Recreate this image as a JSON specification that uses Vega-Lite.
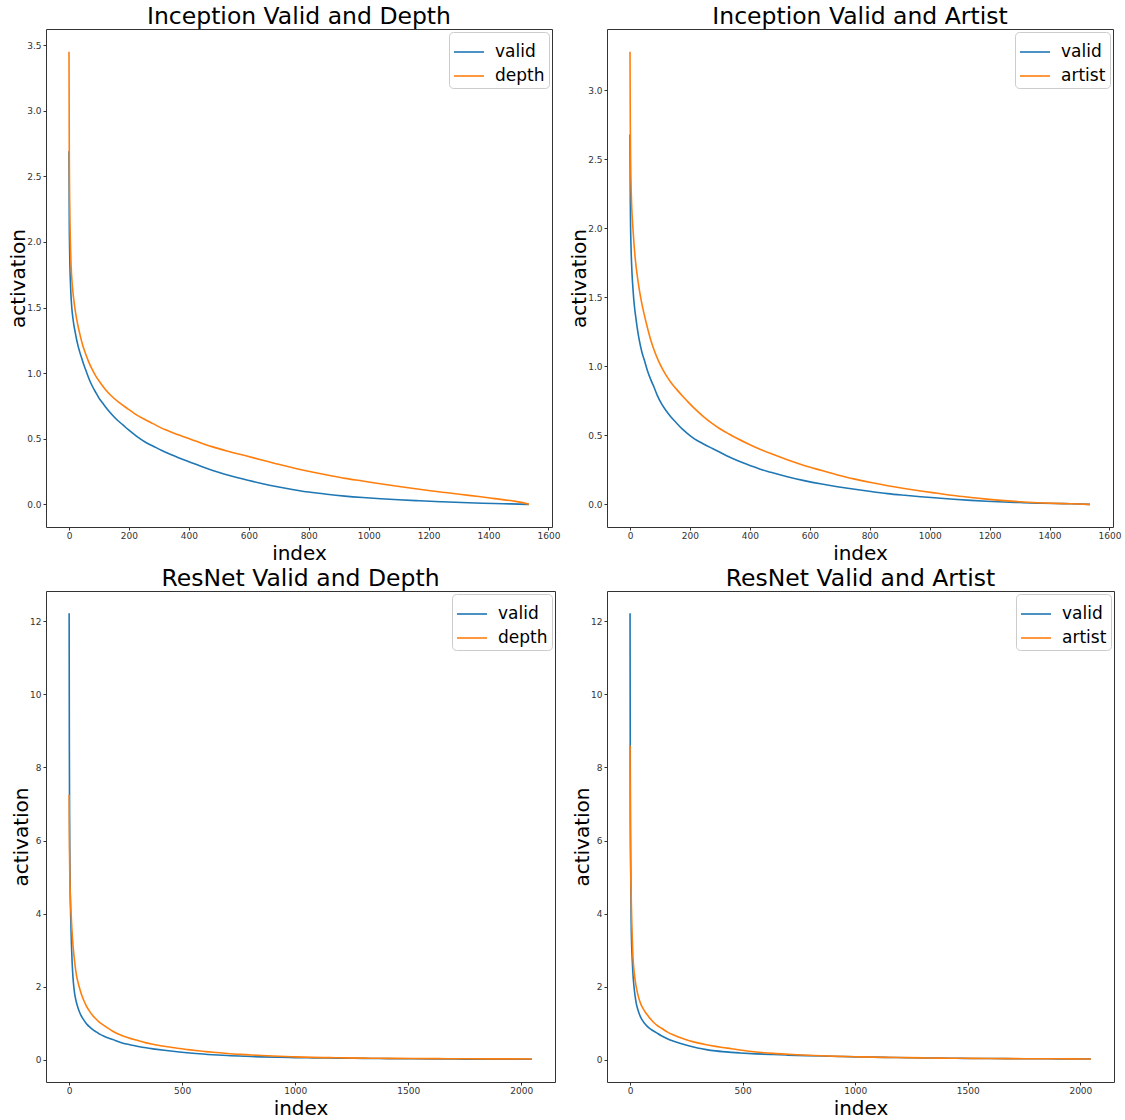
{
  "$schema": "https://vega.github.io/schema/vega-lite/v6.json",
  "background": "white",
  "padding": {"left": 8, "top": 4, "right": 2, "bottom": 1},
  "columns": 2,
  "spacing": {"row": 64, "column": 52},
  "bounds": "flush",
  "align": "each",
  "resolve": {"scale": {"x": "independent", "y": "independent", "color": "independent"}, "legend": {"color": "independent"}},
  "config": {
    "font": "DejaVu Sans",
    "view": {"stroke": "#333", "strokeWidth": 1},
    "axis": {"grid": false, "domain": false, "tickColor": "#333", "tickSize": 3, "labelPadding": 2, "labelFontSize": 9, "labelColor": "#333", "labelFont": "DejaVu Sans", "titleFont": "DejaVu Sans", "titleFontSize": 20, "titleFontWeight": "normal", "titleColor": "black"},
    "axisX": {"titlePadding": 3, "labelPadding": 1},
    "axisY": {"titlePadding": -2},
    "title": {"font": "DejaVu Sans", "fontSize": 23.5, "fontWeight": "normal", "color": "black", "offset": 1},
    "legend": {"orient": "top-right", "offset": 3, "labelFontSize": 17, "labelFont": "DejaVu Sans", "labelColor": "black", "symbolType": "stroke", "symbolSize": 900, "symbolStrokeWidth": 1.6, "strokeColor": "#cccccc", "fillColor": "white", "padding": 4, "cornerRadius": 4, "rowPadding": -1, "labelOffset": 10, "title": null}
  },
  "datasets": {
    "tl": [
      {"index": 0, "activation": 2.69, "series": "valid"}, {"index": 1, "activation": 2.15, "series": "valid"}, {"index": 2, "activation": 1.95, "series": "valid"}, {"index": 3, "activation": 1.82, "series": "valid"}, {"index": 4, "activation": 1.74, "series": "valid"}, {"index": 6, "activation": 1.62, "series": "valid"}, {"index": 8, "activation": 1.54, "series": "valid"}, {"index": 10, "activation": 1.48, "series": "valid"}, {"index": 13, "activation": 1.42, "series": "valid"}, {"index": 16, "activation": 1.37, "series": "valid"}, {"index": 20, "activation": 1.32, "series": "valid"}, {"index": 25, "activation": 1.26, "series": "valid"}, {"index": 30, "activation": 1.21, "series": "valid"}, {"index": 36, "activation": 1.16, "series": "valid"}, {"index": 43, "activation": 1.11, "series": "valid"}, {"index": 50, "activation": 1.06, "series": "valid"}, {"index": 58, "activation": 1.01, "series": "valid"}, {"index": 68, "activation": 0.95, "series": "valid"}, {"index": 78, "activation": 0.9, "series": "valid"}, {"index": 90, "activation": 0.85, "series": "valid"}, {"index": 100, "activation": 0.81, "series": "valid"}, {"index": 113, "activation": 0.77, "series": "valid"}, {"index": 128, "activation": 0.725, "series": "valid"}, {"index": 143, "activation": 0.685, "series": "valid"}, {"index": 160, "activation": 0.645, "series": "valid"}, {"index": 180, "activation": 0.605, "series": "valid"}, {"index": 200, "activation": 0.565, "series": "valid"}, {"index": 225, "activation": 0.52, "series": "valid"}, {"index": 254, "activation": 0.475, "series": "valid"}, {"index": 280, "activation": 0.445, "series": "valid"}, {"index": 310, "activation": 0.41, "series": "valid"}, {"index": 340, "activation": 0.38, "series": "valid"}, {"index": 365, "activation": 0.355, "series": "valid"}, {"index": 400, "activation": 0.325, "series": "valid"}, {"index": 440, "activation": 0.29, "series": "valid"}, {"index": 477, "activation": 0.26, "series": "valid"}, {"index": 520, "activation": 0.23, "series": "valid"}, {"index": 560, "activation": 0.205, "series": "valid"}, {"index": 600, "activation": 0.182, "series": "valid"}, {"index": 650, "activation": 0.155, "series": "valid"}, {"index": 700, "activation": 0.132, "series": "valid"}, {"index": 750, "activation": 0.112, "series": "valid"}, {"index": 800, "activation": 0.094, "series": "valid"}, {"index": 860, "activation": 0.077, "series": "valid"}, {"index": 920, "activation": 0.063, "series": "valid"}, {"index": 980, "activation": 0.052, "series": "valid"}, {"index": 1040, "activation": 0.043, "series": "valid"}, {"index": 1100, "activation": 0.035, "series": "valid"}, {"index": 1170, "activation": 0.027, "series": "valid"}, {"index": 1240, "activation": 0.02, "series": "valid"}, {"index": 1310, "activation": 0.014, "series": "valid"}, {"index": 1380, "activation": 0.009, "series": "valid"}, {"index": 1450, "activation": 0.005, "series": "valid"}, {"index": 1500, "activation": 0.002, "series": "valid"}, {"index": 1535, "activation": 0.0, "series": "valid"},
      {"index": 0, "activation": 3.45, "series": "depth"}, {"index": 1, "activation": 2.65, "series": "depth"}, {"index": 2, "activation": 2.35, "series": "depth"}, {"index": 3, "activation": 2.17, "series": "depth"}, {"index": 4, "activation": 2.05, "series": "depth"}, {"index": 6, "activation": 1.88, "series": "depth"}, {"index": 8, "activation": 1.77, "series": "depth"}, {"index": 10, "activation": 1.7, "series": "depth"}, {"index": 13, "activation": 1.62, "series": "depth"}, {"index": 16, "activation": 1.56, "series": "depth"}, {"index": 20, "activation": 1.49, "series": "depth"}, {"index": 25, "activation": 1.42, "series": "depth"}, {"index": 31, "activation": 1.35, "series": "depth"}, {"index": 38, "activation": 1.28, "series": "depth"}, {"index": 46, "activation": 1.21, "series": "depth"}, {"index": 55, "activation": 1.15, "series": "depth"}, {"index": 65, "activation": 1.09, "series": "depth"}, {"index": 77, "activation": 1.03, "series": "depth"}, {"index": 90, "activation": 0.975, "series": "depth"}, {"index": 105, "activation": 0.925, "series": "depth"}, {"index": 120, "activation": 0.88, "series": "depth"}, {"index": 140, "activation": 0.83, "series": "depth"}, {"index": 168, "activation": 0.775, "series": "depth"}, {"index": 195, "activation": 0.73, "series": "depth"}, {"index": 220, "activation": 0.69, "series": "depth"}, {"index": 250, "activation": 0.65, "series": "depth"}, {"index": 280, "activation": 0.615, "series": "depth"}, {"index": 320, "activation": 0.57, "series": "depth"}, {"index": 365, "activation": 0.53, "series": "depth"}, {"index": 420, "activation": 0.485, "series": "depth"}, {"index": 477, "activation": 0.44, "series": "depth"}, {"index": 530, "activation": 0.405, "series": "depth"}, {"index": 590, "activation": 0.37, "series": "depth"}, {"index": 640, "activation": 0.34, "series": "depth"}, {"index": 699, "activation": 0.305, "series": "depth"}, {"index": 760, "activation": 0.272, "series": "depth"}, {"index": 811, "activation": 0.247, "series": "depth"}, {"index": 870, "activation": 0.22, "series": "depth"}, {"index": 922, "activation": 0.198, "series": "depth"}, {"index": 980, "activation": 0.178, "series": "depth"}, {"index": 1033, "activation": 0.159, "series": "depth"}, {"index": 1090, "activation": 0.14, "series": "depth"}, {"index": 1144, "activation": 0.123, "series": "depth"}, {"index": 1200, "activation": 0.106, "series": "depth"}, {"index": 1256, "activation": 0.09, "series": "depth"}, {"index": 1310, "activation": 0.075, "series": "depth"}, {"index": 1367, "activation": 0.06, "series": "depth"}, {"index": 1420, "activation": 0.044, "series": "depth"}, {"index": 1478, "activation": 0.027, "series": "depth"}, {"index": 1510, "activation": 0.015, "series": "depth"}, {"index": 1535, "activation": 0.0, "series": "depth"}
    ],
    "tr": [
      {"index": 0, "activation": 2.68, "series": "valid"}, {"index": 1, "activation": 2.2, "series": "valid"}, {"index": 2, "activation": 2.0, "series": "valid"}, {"index": 3, "activation": 1.9, "series": "valid"}, {"index": 4, "activation": 1.82, "series": "valid"}, {"index": 5, "activation": 1.76, "series": "valid"}, {"index": 7, "activation": 1.66, "series": "valid"}, {"index": 9, "activation": 1.59, "series": "valid"}, {"index": 12, "activation": 1.5, "series": "valid"}, {"index": 15, "activation": 1.43, "series": "valid"}, {"index": 19, "activation": 1.36, "series": "valid"}, {"index": 24, "activation": 1.28, "series": "valid"}, {"index": 30, "activation": 1.2, "series": "valid"}, {"index": 40, "activation": 1.1, "series": "valid"}, {"index": 50, "activation": 1.03, "series": "valid"}, {"index": 58, "activation": 0.97, "series": "valid"}, {"index": 70, "activation": 0.9, "series": "valid"}, {"index": 80, "activation": 0.85, "series": "valid"}, {"index": 91, "activation": 0.79, "series": "valid"}, {"index": 105, "activation": 0.73, "series": "valid"}, {"index": 120, "activation": 0.68, "series": "valid"}, {"index": 136, "activation": 0.635, "series": "valid"}, {"index": 155, "activation": 0.59, "series": "valid"}, {"index": 175, "activation": 0.545, "series": "valid"}, {"index": 191, "activation": 0.515, "series": "valid"}, {"index": 215, "activation": 0.475, "series": "valid"}, {"index": 247, "activation": 0.436, "series": "valid"}, {"index": 275, "activation": 0.405, "series": "valid"}, {"index": 300, "activation": 0.378, "series": "valid"}, {"index": 330, "activation": 0.345, "series": "valid"}, {"index": 358, "activation": 0.318, "series": "valid"}, {"index": 390, "activation": 0.29, "series": "valid"}, {"index": 430, "activation": 0.258, "series": "valid"}, {"index": 470, "activation": 0.232, "series": "valid"}, {"index": 525, "activation": 0.2, "series": "valid"}, {"index": 581, "activation": 0.172, "series": "valid"}, {"index": 640, "activation": 0.147, "series": "valid"}, {"index": 692, "activation": 0.128, "series": "valid"}, {"index": 750, "activation": 0.109, "series": "valid"}, {"index": 804, "activation": 0.093, "series": "valid"}, {"index": 860, "activation": 0.078, "series": "valid"}, {"index": 915, "activation": 0.066, "series": "valid"}, {"index": 970, "activation": 0.055, "series": "valid"}, {"index": 1026, "activation": 0.046, "series": "valid"}, {"index": 1080, "activation": 0.037, "series": "valid"}, {"index": 1138, "activation": 0.029, "series": "valid"}, {"index": 1190, "activation": 0.023, "series": "valid"}, {"index": 1249, "activation": 0.017, "series": "valid"}, {"index": 1300, "activation": 0.013, "series": "valid"}, {"index": 1360, "activation": 0.009, "series": "valid"}, {"index": 1420, "activation": 0.006, "series": "valid"}, {"index": 1472, "activation": 0.004, "series": "valid"}, {"index": 1535, "activation": 0.0, "series": "valid"},
      {"index": 0, "activation": 3.28, "series": "artist"}, {"index": 1, "activation": 2.75, "series": "artist"}, {"index": 2, "activation": 2.5, "series": "artist"}, {"index": 3, "activation": 2.37, "series": "artist"}, {"index": 4, "activation": 2.27, "series": "artist"}, {"index": 6, "activation": 2.14, "series": "artist"}, {"index": 8, "activation": 2.06, "series": "artist"}, {"index": 11, "activation": 1.96, "series": "artist"}, {"index": 14, "activation": 1.87, "series": "artist"}, {"index": 18, "activation": 1.77, "series": "artist"}, {"index": 24, "activation": 1.66, "series": "artist"}, {"index": 30, "activation": 1.57, "series": "artist"}, {"index": 38, "activation": 1.47, "series": "artist"}, {"index": 47, "activation": 1.38, "series": "artist"}, {"index": 57, "activation": 1.29, "series": "artist"}, {"index": 68, "activation": 1.2, "series": "artist"}, {"index": 80, "activation": 1.12, "series": "artist"}, {"index": 95, "activation": 1.04, "series": "artist"}, {"index": 110, "activation": 0.975, "series": "artist"}, {"index": 125, "activation": 0.92, "series": "artist"}, {"index": 136, "activation": 0.885, "series": "artist"}, {"index": 155, "activation": 0.835, "series": "artist"}, {"index": 175, "activation": 0.785, "series": "artist"}, {"index": 191, "activation": 0.748, "series": "artist"}, {"index": 215, "activation": 0.695, "series": "artist"}, {"index": 247, "activation": 0.632, "series": "artist"}, {"index": 275, "activation": 0.585, "series": "artist"}, {"index": 300, "activation": 0.548, "series": "artist"}, {"index": 330, "activation": 0.51, "series": "artist"}, {"index": 358, "activation": 0.477, "series": "artist"}, {"index": 390, "activation": 0.443, "series": "artist"}, {"index": 430, "activation": 0.403, "series": "artist"}, {"index": 470, "activation": 0.368, "series": "artist"}, {"index": 525, "activation": 0.323, "series": "artist"}, {"index": 581, "activation": 0.282, "series": "artist"}, {"index": 640, "activation": 0.245, "series": "artist"}, {"index": 692, "activation": 0.213, "series": "artist"}, {"index": 750, "activation": 0.183, "series": "artist"}, {"index": 804, "activation": 0.158, "series": "artist"}, {"index": 860, "activation": 0.135, "series": "artist"}, {"index": 915, "activation": 0.115, "series": "artist"}, {"index": 970, "activation": 0.097, "series": "artist"}, {"index": 1026, "activation": 0.08, "series": "artist"}, {"index": 1080, "activation": 0.064, "series": "artist"}, {"index": 1138, "activation": 0.05, "series": "artist"}, {"index": 1190, "activation": 0.038, "series": "artist"}, {"index": 1249, "activation": 0.027, "series": "artist"}, {"index": 1300, "activation": 0.019, "series": "artist"}, {"index": 1360, "activation": 0.012, "series": "artist"}, {"index": 1420, "activation": 0.007, "series": "artist"}, {"index": 1472, "activation": 0.004, "series": "artist"}, {"index": 1535, "activation": 0.0, "series": "artist"}
    ],
    "bl": [
      {"index": 0, "activation": 12.22, "series": "valid"}, {"index": 1, "activation": 8.5, "series": "valid"}, {"index": 2, "activation": 6.6, "series": "valid"}, {"index": 3, "activation": 5.6, "series": "valid"}, {"index": 4, "activation": 5.0, "series": "valid"}, {"index": 5, "activation": 4.5, "series": "valid"}, {"index": 7, "activation": 3.9, "series": "valid"}, {"index": 10, "activation": 3.2, "series": "valid"}, {"index": 13, "activation": 2.7, "series": "valid"}, {"index": 16, "activation": 2.35, "series": "valid"}, {"index": 19, "activation": 2.1, "series": "valid"}, {"index": 22, "activation": 1.92, "series": "valid"}, {"index": 26, "activation": 1.75, "series": "valid"}, {"index": 31, "activation": 1.6, "series": "valid"}, {"index": 38, "activation": 1.44, "series": "valid"}, {"index": 45, "activation": 1.32, "series": "valid"}, {"index": 52, "activation": 1.22, "series": "valid"}, {"index": 60, "activation": 1.13, "series": "valid"}, {"index": 70, "activation": 1.04, "series": "valid"}, {"index": 80, "activation": 0.96, "series": "valid"}, {"index": 92, "activation": 0.89, "series": "valid"}, {"index": 105, "activation": 0.82, "series": "valid"}, {"index": 120, "activation": 0.76, "series": "valid"}, {"index": 135, "activation": 0.7, "series": "valid"}, {"index": 150, "activation": 0.655, "series": "valid"}, {"index": 170, "activation": 0.6, "series": "valid"}, {"index": 193, "activation": 0.55, "series": "valid"}, {"index": 225, "activation": 0.48, "series": "valid"}, {"index": 260, "activation": 0.42, "series": "valid"}, {"index": 300, "activation": 0.37, "series": "valid"}, {"index": 340, "activation": 0.325, "series": "valid"}, {"index": 380, "activation": 0.29, "series": "valid"}, {"index": 430, "activation": 0.25, "series": "valid"}, {"index": 488, "activation": 0.21, "series": "valid"}, {"index": 560, "activation": 0.17, "series": "valid"}, {"index": 635, "activation": 0.137, "series": "valid"}, {"index": 700, "activation": 0.113, "series": "valid"}, {"index": 782, "activation": 0.092, "series": "valid"}, {"index": 850, "activation": 0.078, "series": "valid"}, {"index": 930, "activation": 0.066, "series": "valid"}, {"index": 1000, "activation": 0.057, "series": "valid"}, {"index": 1077, "activation": 0.05, "series": "valid"}, {"index": 1150, "activation": 0.044, "series": "valid"}, {"index": 1220, "activation": 0.04, "series": "valid"}, {"index": 1300, "activation": 0.035, "series": "valid"}, {"index": 1372, "activation": 0.031, "series": "valid"}, {"index": 1450, "activation": 0.027, "series": "valid"}, {"index": 1520, "activation": 0.024, "series": "valid"}, {"index": 1600, "activation": 0.021, "series": "valid"}, {"index": 1667, "activation": 0.019, "series": "valid"}, {"index": 1750, "activation": 0.016, "series": "valid"}, {"index": 1850, "activation": 0.014, "series": "valid"}, {"index": 1950, "activation": 0.012, "series": "valid"}, {"index": 2047, "activation": 0.01, "series": "valid"},
      {"index": 0, "activation": 7.25, "series": "depth"}, {"index": 1, "activation": 6.1, "series": "depth"}, {"index": 2, "activation": 5.5, "series": "depth"}, {"index": 3, "activation": 5.05, "series": "depth"}, {"index": 4, "activation": 4.75, "series": "depth"}, {"index": 6, "activation": 4.35, "series": "depth"}, {"index": 9, "activation": 3.95, "series": "depth"}, {"index": 12, "activation": 3.6, "series": "depth"}, {"index": 15, "activation": 3.3, "series": "depth"}, {"index": 19, "activation": 3.0, "series": "depth"}, {"index": 24, "activation": 2.7, "series": "depth"}, {"index": 29, "activation": 2.45, "series": "depth"}, {"index": 34, "activation": 2.26, "series": "depth"}, {"index": 40, "activation": 2.1, "series": "depth"}, {"index": 46, "activation": 1.96, "series": "depth"}, {"index": 55, "activation": 1.78, "series": "depth"}, {"index": 65, "activation": 1.62, "series": "depth"}, {"index": 77, "activation": 1.46, "series": "depth"}, {"index": 90, "activation": 1.33, "series": "depth"}, {"index": 104, "activation": 1.21, "series": "depth"}, {"index": 118, "activation": 1.12, "series": "depth"}, {"index": 133, "activation": 1.03, "series": "depth"}, {"index": 149, "activation": 0.96, "series": "depth"}, {"index": 170, "activation": 0.87, "series": "depth"}, {"index": 193, "activation": 0.78, "series": "depth"}, {"index": 230, "activation": 0.67, "series": "depth"}, {"index": 267, "activation": 0.59, "series": "depth"}, {"index": 300, "activation": 0.53, "series": "depth"}, {"index": 340, "activation": 0.46, "series": "depth"}, {"index": 380, "activation": 0.41, "series": "depth"}, {"index": 410, "activation": 0.375, "series": "depth"}, {"index": 450, "activation": 0.34, "series": "depth"}, {"index": 488, "activation": 0.305, "series": "depth"}, {"index": 520, "activation": 0.28, "series": "depth"}, {"index": 560, "activation": 0.25, "series": "depth"}, {"index": 600, "activation": 0.224, "series": "depth"}, {"index": 635, "activation": 0.203, "series": "depth"}, {"index": 700, "activation": 0.17, "series": "depth"}, {"index": 782, "activation": 0.138, "series": "depth"}, {"index": 850, "activation": 0.113, "series": "depth"}, {"index": 930, "activation": 0.092, "series": "depth"}, {"index": 1000, "activation": 0.077, "series": "depth"}, {"index": 1077, "activation": 0.064, "series": "depth"}, {"index": 1150, "activation": 0.055, "series": "depth"}, {"index": 1220, "activation": 0.049, "series": "depth"}, {"index": 1300, "activation": 0.043, "series": "depth"}, {"index": 1372, "activation": 0.039, "series": "depth"}, {"index": 1450, "activation": 0.035, "series": "depth"}, {"index": 1520, "activation": 0.032, "series": "depth"}, {"index": 1600, "activation": 0.029, "series": "depth"}, {"index": 1667, "activation": 0.027, "series": "depth"}, {"index": 1750, "activation": 0.025, "series": "depth"}, {"index": 1850, "activation": 0.022, "series": "depth"}, {"index": 1950, "activation": 0.021, "series": "depth"}, {"index": 2047, "activation": 0.02, "series": "depth"}
    ],
    "br": [
      {"index": 0, "activation": 12.22, "series": "valid"}, {"index": 1, "activation": 8.0, "series": "valid"}, {"index": 2, "activation": 6.2, "series": "valid"}, {"index": 3, "activation": 5.2, "series": "valid"}, {"index": 4, "activation": 4.5, "series": "valid"}, {"index": 5, "activation": 3.8, "series": "valid"}, {"index": 6, "activation": 3.4, "series": "valid"}, {"index": 8, "activation": 3.0, "series": "valid"}, {"index": 10, "activation": 2.7, "series": "valid"}, {"index": 12, "activation": 2.45, "series": "valid"}, {"index": 14, "activation": 2.25, "series": "valid"}, {"index": 17, "activation": 2.03, "series": "valid"}, {"index": 20, "activation": 1.86, "series": "valid"}, {"index": 24, "activation": 1.68, "series": "valid"}, {"index": 28, "activation": 1.53, "series": "valid"}, {"index": 33, "activation": 1.41, "series": "valid"}, {"index": 40, "activation": 1.27, "series": "valid"}, {"index": 48, "activation": 1.15, "series": "valid"}, {"index": 58, "activation": 1.05, "series": "valid"}, {"index": 68, "activation": 0.97, "series": "valid"}, {"index": 80, "activation": 0.89, "series": "valid"}, {"index": 95, "activation": 0.82, "series": "valid"}, {"index": 117, "activation": 0.74, "series": "valid"}, {"index": 135, "activation": 0.67, "series": "valid"}, {"index": 150, "activation": 0.62, "series": "valid"}, {"index": 170, "activation": 0.56, "series": "valid"}, {"index": 191, "activation": 0.51, "series": "valid"}, {"index": 225, "activation": 0.44, "series": "valid"}, {"index": 260, "activation": 0.38, "series": "valid"}, {"index": 300, "activation": 0.32, "series": "valid"}, {"index": 339, "activation": 0.275, "series": "valid"}, {"index": 380, "activation": 0.24, "series": "valid"}, {"index": 410, "activation": 0.22, "series": "valid"}, {"index": 450, "activation": 0.2, "series": "valid"}, {"index": 487, "activation": 0.185, "series": "valid"}, {"index": 560, "activation": 0.16, "series": "valid"}, {"index": 636, "activation": 0.14, "series": "valid"}, {"index": 700, "activation": 0.125, "series": "valid"}, {"index": 783, "activation": 0.11, "series": "valid"}, {"index": 850, "activation": 0.1, "series": "valid"}, {"index": 930, "activation": 0.088, "series": "valid"}, {"index": 1000, "activation": 0.078, "series": "valid"}, {"index": 1079, "activation": 0.069, "series": "valid"}, {"index": 1150, "activation": 0.061, "series": "valid"}, {"index": 1230, "activation": 0.054, "series": "valid"}, {"index": 1300, "activation": 0.048, "series": "valid"}, {"index": 1375, "activation": 0.042, "series": "valid"}, {"index": 1450, "activation": 0.038, "series": "valid"}, {"index": 1520, "activation": 0.034, "series": "valid"}, {"index": 1600, "activation": 0.031, "series": "valid"}, {"index": 1671, "activation": 0.028, "series": "valid"}, {"index": 1750, "activation": 0.026, "series": "valid"}, {"index": 1850, "activation": 0.024, "series": "valid"}, {"index": 1950, "activation": 0.022, "series": "valid"}, {"index": 2047, "activation": 0.02, "series": "valid"},
      {"index": 0, "activation": 8.6, "series": "artist"}, {"index": 1, "activation": 6.5, "series": "artist"}, {"index": 2, "activation": 5.7, "series": "artist"}, {"index": 3, "activation": 5.2, "series": "artist"}, {"index": 4, "activation": 4.8, "series": "artist"}, {"index": 6, "activation": 4.2, "series": "artist"}, {"index": 8, "activation": 3.7, "series": "artist"}, {"index": 10, "activation": 3.3, "series": "artist"}, {"index": 12, "activation": 2.95, "series": "artist"}, {"index": 14, "activation": 2.7, "series": "artist"}, {"index": 17, "activation": 2.48, "series": "artist"}, {"index": 20, "activation": 2.3, "series": "artist"}, {"index": 24, "activation": 2.12, "series": "artist"}, {"index": 28, "activation": 1.97, "series": "artist"}, {"index": 34, "activation": 1.8, "series": "artist"}, {"index": 40, "activation": 1.66, "series": "artist"}, {"index": 48, "activation": 1.52, "series": "artist"}, {"index": 58, "activation": 1.4, "series": "artist"}, {"index": 68, "activation": 1.3, "series": "artist"}, {"index": 80, "activation": 1.2, "series": "artist"}, {"index": 90, "activation": 1.12, "series": "artist"}, {"index": 102, "activation": 1.04, "series": "artist"}, {"index": 120, "activation": 0.94, "series": "artist"}, {"index": 140, "activation": 0.86, "series": "artist"}, {"index": 165, "activation": 0.76, "series": "artist"}, {"index": 191, "activation": 0.68, "series": "artist"}, {"index": 225, "activation": 0.6, "series": "artist"}, {"index": 260, "activation": 0.525, "series": "artist"}, {"index": 300, "activation": 0.46, "series": "artist"}, {"index": 339, "activation": 0.41, "series": "artist"}, {"index": 380, "activation": 0.365, "series": "artist"}, {"index": 410, "activation": 0.335, "series": "artist"}, {"index": 450, "activation": 0.3, "series": "artist"}, {"index": 487, "activation": 0.265, "series": "artist"}, {"index": 520, "activation": 0.237, "series": "artist"}, {"index": 560, "activation": 0.21, "series": "artist"}, {"index": 600, "activation": 0.19, "series": "artist"}, {"index": 636, "activation": 0.172, "series": "artist"}, {"index": 700, "activation": 0.148, "series": "artist"}, {"index": 783, "activation": 0.122, "series": "artist"}, {"index": 850, "activation": 0.106, "series": "artist"}, {"index": 931, "activation": 0.091, "series": "artist"}, {"index": 1000, "activation": 0.08, "series": "artist"}, {"index": 1079, "activation": 0.07, "series": "artist"}, {"index": 1150, "activation": 0.062, "series": "artist"}, {"index": 1230, "activation": 0.055, "series": "artist"}, {"index": 1300, "activation": 0.049, "series": "artist"}, {"index": 1375, "activation": 0.043, "series": "artist"}, {"index": 1450, "activation": 0.039, "series": "artist"}, {"index": 1520, "activation": 0.035, "series": "artist"}, {"index": 1600, "activation": 0.032, "series": "artist"}, {"index": 1671, "activation": 0.029, "series": "artist"}, {"index": 1750, "activation": 0.027, "series": "artist"}, {"index": 1850, "activation": 0.025, "series": "artist"}, {"index": 1950, "activation": 0.022, "series": "artist"}, {"index": 2047, "activation": 0.02, "series": "artist"}
    ]
  },
  "concat": [
    {
      "width": 506, "height": 498,
      "title": "Inception Valid and Depth",
      "data": {"name": "tl"},
      "mark": {"type": "line", "strokeWidth": 1.6, "interpolate": "monotone"},
      "encoding": {
        "x": {"field": "index", "type": "quantitative", "scale": {"domain": [-76.75, 1611.75], "nice": false, "zero": false}, "axis": {"values": [0, 200, 400, 600, 800, 1000, 1200, 1400, 1600], "format": "d", "title": "index"}},
        "y": {"field": "activation", "type": "quantitative", "scale": {"domain": [-0.1725, 3.6225], "nice": false, "zero": false}, "axis": {"values": [0, 0.5, 1, 1.5, 2, 2.5, 3, 3.5], "format": ".1f", "title": "activation"}},
        "color": {"field": "series", "type": "nominal", "sort": null, "scale": {"domain": ["valid", "depth"], "range": ["#1f77b4", "#ff7f0e"]}}
      }
    },
    {
      "width": 506, "height": 498,
      "title": "Inception Valid and Artist",
      "data": {"name": "tr"},
      "mark": {"type": "line", "strokeWidth": 1.6, "interpolate": "monotone"},
      "encoding": {
        "x": {"field": "index", "type": "quantitative", "scale": {"domain": [-76.75, 1611.75], "nice": false, "zero": false}, "axis": {"values": [0, 200, 400, 600, 800, 1000, 1200, 1400, 1600], "format": "d", "title": "index"}},
        "y": {"field": "activation", "type": "quantitative", "scale": {"domain": [-0.164, 3.444], "nice": false, "zero": false}, "axis": {"values": [0, 0.5, 1, 1.5, 2, 2.5, 3], "format": ".1f", "title": "activation"}},
        "color": {"field": "series", "type": "nominal", "sort": null, "scale": {"domain": ["valid", "artist"], "range": ["#1f77b4", "#ff7f0e"]}}
      }
    },
    {
      "width": 509, "height": 491,
      "title": "ResNet Valid and Depth",
      "data": {"name": "bl"},
      "mark": {"type": "line", "strokeWidth": 1.6, "interpolate": "monotone"},
      "encoding": {
        "x": {"field": "index", "type": "quantitative", "scale": {"domain": [-102.35, 2149.35], "nice": false, "zero": false}, "axis": {"values": [0, 500, 1000, 1500, 2000], "format": "d", "title": "index"}},
        "y": {"field": "activation", "type": "quantitative", "scale": {"domain": [-0.611, 12.831], "nice": false, "zero": false}, "axis": {"values": [0, 2, 4, 6, 8, 10, 12], "format": "d", "title": "activation"}},
        "color": {"field": "series", "type": "nominal", "sort": null, "scale": {"domain": ["valid", "depth"], "range": ["#1f77b4", "#ff7f0e"]}}
      }
    },
    {
      "width": 507, "height": 491,
      "title": "ResNet Valid and Artist",
      "data": {"name": "br"},
      "mark": {"type": "line", "strokeWidth": 1.6, "interpolate": "monotone"},
      "encoding": {
        "x": {"field": "index", "type": "quantitative", "scale": {"domain": [-102.35, 2149.35], "nice": false, "zero": false}, "axis": {"values": [0, 500, 1000, 1500, 2000], "format": "d", "title": "index"}},
        "y": {"field": "activation", "type": "quantitative", "scale": {"domain": [-0.611, 12.831], "nice": false, "zero": false}, "axis": {"values": [0, 2, 4, 6, 8, 10, 12], "format": "d", "title": "activation"}},
        "color": {"field": "series", "type": "nominal", "sort": null, "scale": {"domain": ["valid", "artist"], "range": ["#1f77b4", "#ff7f0e"]}}
      }
    }
  ]
}
